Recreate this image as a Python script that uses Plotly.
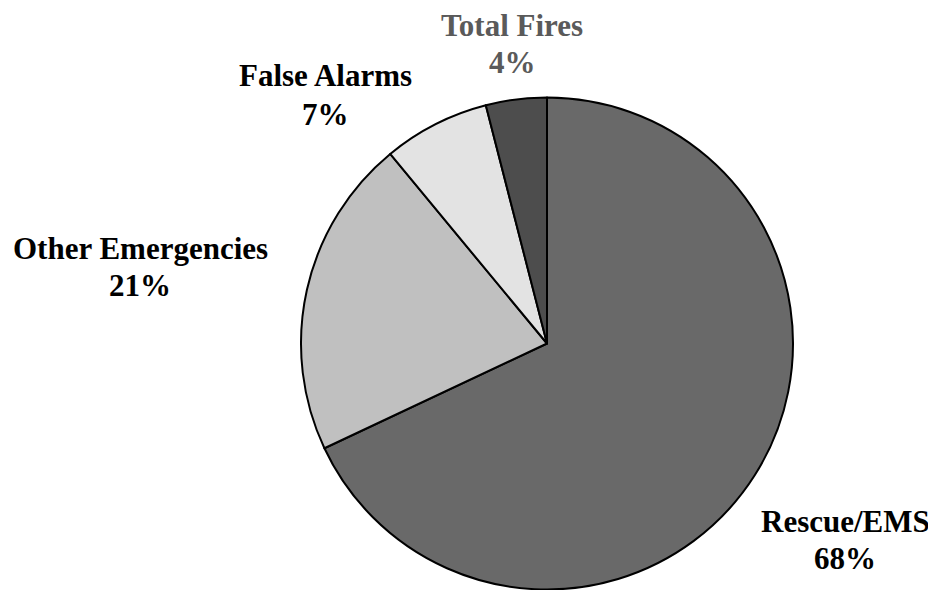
import plotly.graph_objects as go

categories = ["Rescue/EMS", "Other Emergencies", "False Alarms", "Total Fires"]
values = [68, 21, 7, 4]
slice_colors = ["#696969", "#c0c0c0", "#e3e3e3", "#4d4d4d"]
label_colors = ["#000000", "#000000", "#000000", "#5a5a5a"]

# page body has an 8px margin; figure coordinates are screen coordinates minus 8
OFF = 8
W, H = 936 - OFF, 590 - OFF
# label centre positions in screen pixels (x, y of first line, y of second line)
label_pos = [(845, 521, 558), (140, 248, 285), (325, 75, 114), (512, 25, 62)]

cx, cy, r = 547 - OFF, 343.5 - OFF, 246

fig = go.Figure(go.Pie(
    labels=categories,
    values=values,
    sort=False,
    direction="clockwise",
    rotation=0,
    textinfo="none",
    hoverinfo="label+percent",
    marker=dict(colors=slice_colors, line=dict(color="#000000", width=2)),
    domain=dict(x=[(cx - r) / W, (cx + r) / W],
                y=[max(0, (H - cy - r) / H), (H - cy + r) / H]),
    showlegend=False,
))

annotations = []
for cat, v, col, (px, py1, py2) in zip(categories, values, label_colors, label_pos):
    for txt, py in ((cat, py1), (f"{v}%", py2)):
        annotations.append(dict(
            x=(px - OFF) / W, y=1 - (py - OFF) / H, xref="paper", yref="paper",
            text=txt, showarrow=False, xanchor="center", yanchor="middle",
            font=dict(family="Liberation Serif", size=31, color=col, weight="bold"),
        ))

fig.update_layout(
    width=W, height=H,
    margin=dict(l=0, r=0, t=0, b=0),
    paper_bgcolor="white", plot_bgcolor="white",
    annotations=annotations,
)

fig.write_html("out.html")
